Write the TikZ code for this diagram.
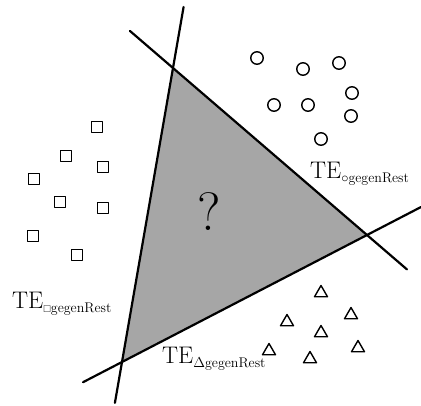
\documentclass[tikz,border=0pt]{standalone}
\usepackage{amssymb}
\usetikzlibrary{calc,shapes.geometric}

\begin{document}
\begin{tikzpicture}[x=1pt,y=-1pt,line cap=round,line join=round]
\useasboundingbox (0,0) rectangle (421,405);
\tikzset{
  circmark/.style={draw,circle,line width=1.4pt,minimum size=12.5pt,inner sep=0pt},
  sqmark/.style={draw,rectangle,line width=1.4pt,minimum size=11.5pt,inner sep=0pt},
  trimark/.style={draw,regular polygon,regular polygon sides=3,line width=1.4pt,minimum size=15pt,inner sep=0pt},
  telabel/.style={anchor=base west,inner sep=0pt,font=\fontsize{24}{28}\selectfont}
}
\newcommand{\tesub}[1]{\raisebox{-4.5pt}{\fontsize{14}{16}\selectfont #1gegenRest}}
\coordinate (top) at (173,68);
\coordinate (right) at (367,235);
\coordinate (bot) at (122,362);
\coordinate (l1a) at ($(top)!-0.2075!(bot)$);
\coordinate (l1b) at ($(top)!1.139!(bot)$);
\coordinate (l2a) at ($(top)!-0.222!(right)$);
\coordinate (l2b) at ($(top)!1.206!(right)$);
\coordinate (l3a) at ($(bot)!-0.159!(right)$);
\coordinate (l3b) at ($(bot)!1.22!(right)$);
\fill[black!35] (top) -- (right) -- (bot) -- cycle;
\draw[line width=2.2pt] (l1a) -- (l1b);
\draw[line width=2.2pt] (l2a) -- (l2b);
\draw[line width=2.2pt] (l3a) -- (l3b);
\node[font=\fontsize{54}{58}\selectfont] (ques) at (209,212) {?};
% circles
\node[circmark] (c1) at (257,58) {};
\node[circmark] (c2) at (303,69) {};
\node[circmark] (c3) at (339,63) {};
\node[circmark] (c4) at (352,93) {};
\node[circmark] (c5) at (274,105) {};
\node[circmark] (c6) at (308,105) {};
\node[circmark] (c7) at (351,116) {};
\node[circmark] (c8) at (321,139) {};
% squares
\node[sqmark] (s1) at (97,127) {};
\node[sqmark] (s2) at (66,156) {};
\node[sqmark] (s3) at (103,167) {};
\node[sqmark] (s4) at (34,179) {};
\node[sqmark] (s5) at (60,202) {};
\node[sqmark] (s6) at (103,208) {};
\node[sqmark] (s7) at (33,236) {};
\node[sqmark] (s8) at (77,255) {};
% triangles
\node[trimark] (t1) at (321,293) {};
\node[trimark] (t2) at (287,322) {};
\node[trimark] (t3) at (351,315) {};
\node[trimark] (t4) at (321,333) {};
\node[trimark] (t5) at (269,351) {};
\node[trimark] (t6) at (358,348) {};
\node[trimark] (t7) at (310,359) {};
% labels
\node[telabel] (tecirc) at (310,178) {TE\tesub{$\circ$}};
\node[telabel] (tesq) at (12,308) {TE\tesub{$\scriptstyle\square$}};
\node[telabel] (tetri) at (162,363) {TE\tesub{$\Delta$}};
\end{tikzpicture}
\end{document}
